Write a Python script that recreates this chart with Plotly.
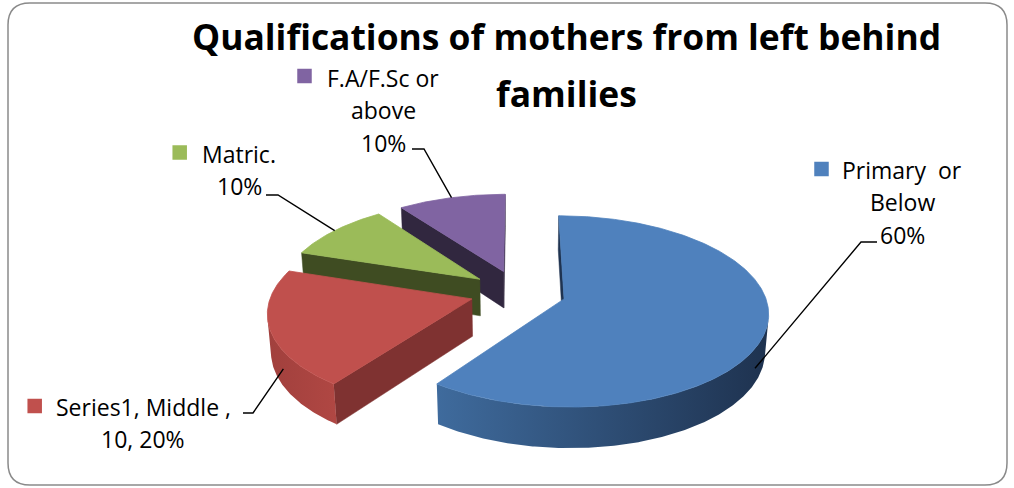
import numpy as np
import plotly.graph_objects as go

# ---------------- data ----------------
title_lines = ["Qualifications of mothers from left behind", "families"]
series_name = "Series1"
categories = ["Primary  or\nBelow", "Middle", "Matric.", "F.A/F.Sc or\nabove"]
values = [30, 10, 5, 5]
show_series_value = [False, True, False, False]

# ---------------- style / geometry ----------------
W, H = 1014, 488
top_colors = ["#4F81BD", "#C0504D", "#9BBB59", "#8064A2"]
side_grads = [["#3F6B9D", "#1E324F"], ["#A1403D", "#B04743"],
              ["#6E883D", "#55692E"], ["#5E4A78", "#463857"]]
cut_colors = ["#1F3350", "#7F3231", "#3F4C22", "#31273F"]
explode = 0.24
thick = 0.212
elev = np.radians(27.45)
persp_d = 6.85
scale = 200.0
cx0, cy0 = 518.0, 292.0

font_family = "'Open Sans', Lato, sans-serif"
label_size = 23
title_size = 35.4
line_gap = 32.5
# label layout: text centre x, first baseline y, key square centre, leader elbow
label_cx = [902, 143, 239, 383]
label_base = [178, 415, 162, 86]
key_centre = [(821.5, 169), (34.7, 406), (179.7, 152.5), (304.5, 76)]
key_size = 14.5
leader_text_pts = [[(877, 242), (861, 242)], [(243, 413), (253, 413)],
                   [(266, 195), (278, 195)], [(412, 149), (424, 149)]]
leader_anchor = [(118, 0.57), (240, 0.5), (306, 0.0), (342, 0.0)]

s_e, c_e = np.sin(elev), np.cos(elev)


def proj(X, Z, Y):
    X = np.asarray(X, float)
    Z = np.asarray(Z, float)
    Y = np.asarray(Y, float)
    w = 1 + (Z * c_e - Y * s_e) / persp_d
    return cx0 + scale * X / w, cy0 - scale * (Z * s_e + Y * c_e) / w


fig = go.Figure()


def add_poly(xs, ys, color=None, grad=None, edge=0.0):
    xs = list(xs) + [xs[0]]
    ys = list(ys) + [ys[0]]
    kw = dict(x=xs, y=ys, mode="lines", fill="toself", hoverinfo="skip",
              showlegend=False)
    if grad is not None:
        kw["fillgradient"] = dict(type="horizontal",
                                  colorscale=[[0, grad[0]], [1, grad[1]]])
        kw["line"] = dict(width=0, color=grad[0])
    else:
        kw["fillcolor"] = color
        kw["line"] = dict(width=edge, color=color)
    fig.add_trace(go.Scatter(**kw))


total = float(sum(values))
fracs = np.array(values) / total
ends = np.cumsum(fracs) * 360.0
starts = ends - fracs * 360.0
mids = (starts + ends) / 2
offs = [(explode * np.sin(np.radians(m)), explode * np.cos(np.radians(m))) for m in mids]
Dc = persp_d * c_e

order = sorted(range(len(values)), key=lambda i: -offs[i][1])
for i in order:
    ox, oz = offs[i]
    a0, a1 = np.radians(starts[i]), np.radians(ends[i])
    # radial cut faces
    for phi, sgn in ((a0, 1), (a1, -1)):
        nx, nz = -sgn * np.cos(phi), sgn * np.sin(phi)
        if ox * nx + (oz + Dc) * nz < 0:
            X = [ox, ox + np.sin(phi), ox + np.sin(phi), ox]
            Z = [oz, oz + np.cos(phi), oz + np.cos(phi), oz]
            Y = [0, 0, -thick, -thick]
            px, py = proj(X, Z, Y)
            add_poly(px, py, color=cut_colors[i], edge=0.5)
    # curved outer side
    th = np.linspace(a0, a1, max(int((ends[i] - starts[i]) * 2), 8))
    vis = 1 + ox * np.sin(th) + (oz + Dc) * np.cos(th) < 0
    idx = np.where(vis)[0]
    if len(idx):
        runs = np.split(idx, np.where(np.diff(idx) > 1)[0] + 1)
        for r in runs:
            t = th[r]
            X = ox + np.sin(t)
            Z = oz + np.cos(t)
            tx, ty = proj(X, Z, np.zeros_like(t))
            bx, by = proj(X, Z, -thick * np.ones_like(t))
            add_poly(np.concatenate([tx, bx[::-1]]), np.concatenate([ty, by[::-1]]),
                     grad=side_grads[i])
    # top face
    tx, ty = proj(ox + np.sin(th), oz + np.cos(th), np.zeros_like(th))
    ax, ay = proj(ox, oz, 0)
    add_poly(np.concatenate([[ax], tx]), np.concatenate([[ay], ty]),
             color=top_colors[i], edge=0.8)

annotations = []
shapes = []
# labels, keys, leader lines
for i in range(len(values)):
    pct = f"{round(100 * values[i] / total)}%"
    if show_series_value[i]:
        lines = [f"{series_name}, {categories[i]} ,", f"{values[i]}, {pct}"]
    else:
        lines = categories[i].split("\n") + [pct]
    for k, ln in enumerate(lines):
        annotations.append(dict(
            x=label_cx[i], y=label_base[i] + k * line_gap - 0.36 * label_size,
            xref="x", yref="y", text=ln, showarrow=False,
            xanchor="center", yanchor="middle",
            font=dict(family=font_family, size=label_size, color="#000000")))
    kx, ky = key_centre[i]
    shapes.append(dict(type="rect", xref="x", yref="y",
                       x0=kx - key_size / 2, x1=kx + key_size / 2,
                       y0=ky - key_size / 2, y1=ky + key_size / 2,
                       fillcolor=top_colors[i], line=dict(width=0)))
    ang, fr = leader_anchor[i]
    ox, oz = offs[i]
    lax, lay = proj(ox + np.sin(np.radians(ang)), oz + np.cos(np.radians(ang)), -fr * thick)
    pts = leader_text_pts[i] + [(float(lax), float(lay))]
    fig.add_trace(go.Scatter(x=[p[0] for p in pts], y=[p[1] for p in pts],
                             mode="lines", line=dict(color="#000000", width=1.4),
                             hoverinfo="skip", showlegend=False))

# title
title_cx = [566.5, 566]
title_base = [49, 106]
for k, t in enumerate(title_lines):
    annotations.append(dict(
        x=title_cx[k], y=title_base[k] - 0.36 * title_size, xref="x", yref="y",
        text=f"<b>{t}</b>", showarrow=False, xanchor="center", yanchor="middle",
        font=dict(family=font_family, size=title_size, color="#000000")))

# rounded chart border
x0, y0, x1, y1, r = 8, 3, 1007, 485, 22
path = (f"M {x0 + r},{y0} L {x1 - r},{y0} Q {x1},{y0} {x1},{y0 + r} "
        f"L {x1},{y1 - r} Q {x1},{y1} {x1 - r},{y1} L {x0 + r},{y1} "
        f"Q {x0},{y1} {x0},{y1 - r} L {x0},{y0 + r} Q {x0},{y0} {x0 + r},{y0} Z")
shapes.append(dict(type="path", xref="x", yref="y", path=path,
                   line=dict(color="#8A8A8A", width=1.5), fillcolor="rgba(0,0,0,0)"))

fig.update_layout(
    width=W, height=H, margin=dict(l=0, r=0, t=0, b=0),
    paper_bgcolor="white", plot_bgcolor="white", showlegend=False,
    xaxis=dict(range=[0, W], visible=False, fixedrange=True),
    yaxis=dict(range=[H, 0], visible=False, fixedrange=True),
    annotations=annotations, shapes=shapes,
)
fig.write_html("out.html", config={"displayModeBar": False, "staticPlot": True},
               post_script="document.body.style.margin='0';document.body.style.padding='0';"
                           "document.body.style.overflow='hidden';")
